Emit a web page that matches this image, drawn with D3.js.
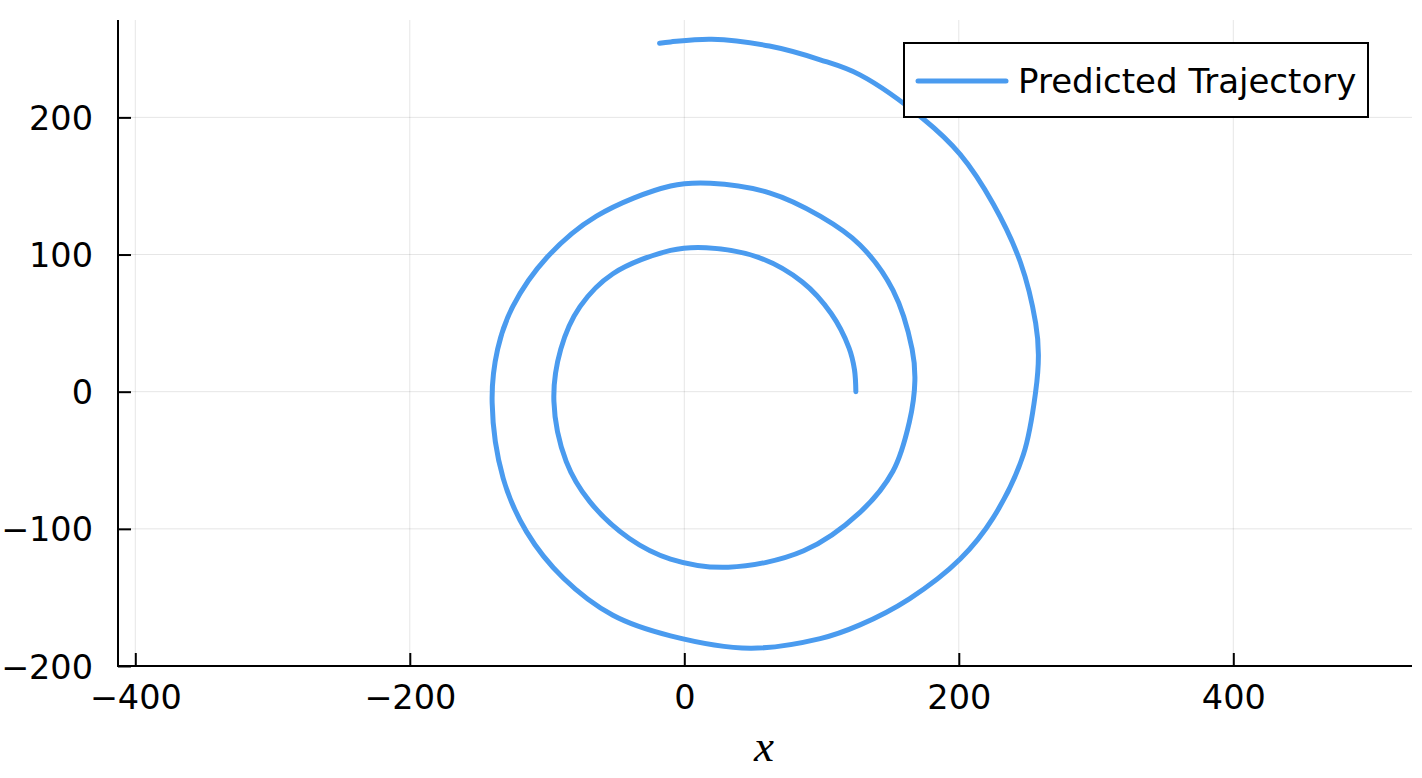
<!DOCTYPE html>
<html>
<head>
<meta charset="utf-8">
<script src="https://cdn.jsdelivr.net/npm/d3@7"></script>
<style>
  html, body { margin: 0; padding: 0; background: #fff; }
  svg { display: block; }
</style>
</head>
<body>
<svg id="chart" width="1422" height="778"></svg>
<script>
// ---- data ----
const seriesName = "Predicted Trajectory";
const trajX = [125, 124, 120, 107, 86, 54, 16, -10, -52, -76, -90, -95, -86, -69, -40, -10, 32, 87, 128, 152, 164, 168, 166, 152, 128, 99, 62, 19, -10, -64, -100, -125, -136, -140, -132, -115, -88, -52, -10, 48, 99, 128, 164, 201, 225, 247, 256, 258, 256, 245, 225, 201, 174, 128, 99, 62, 20, -10, -18];
const trajY = [0, 16, 32, 57, 80, 98, 105, 103, 86, 62, 31, -7, -51, -80, -107, -122, -128, -116, -88, -58, -22, 8, 31, 74, 107, 128, 145, 152, 150, 128, 98, 62, 31, -8, -63, -102, -136, -163, -178, -187, -180, -170, -151, -122, -92, -46, 0, 27, 50, 94, 137, 173, 199, 231, 242, 252, 257, 255, 254];
const xTicks = [-400, -200, 0, 200, 400];
const yTicks = [-200, -100, 0, 100, 200];
const xLabel = "x";

// ---- layout ----
const svg = d3.select("#chart");
const padL = 118, padR = 1412, padT = 20, padB = 666;
const xScale = d3.scaleLinear().domain([-412.6, 530.2]).range([padL, padR]);
const yScale = d3.scaleLinear().domain([-200, 271]).range([padB, padT]);
const lineColor = "#4a9bef";
const fmt = d => (d < 0 ? "\u2212" + Math.abs(d) : String(d));

// grid
svg.append("g").selectAll("line").data(xTicks).join("line")
  .attr("x1", d => xScale(d)).attr("x2", d => xScale(d))
  .attr("y1", padT).attr("y2", padB)
  .attr("stroke", "#000").attr("stroke-opacity", 0.1).attr("stroke-width", 1);
svg.append("g").selectAll("line").data(yTicks).join("line")
  .attr("x1", padL).attr("x2", padR)
  .attr("y1", d => yScale(d)).attr("y2", d => yScale(d))
  .attr("stroke", "#000").attr("stroke-opacity", 0.1).attr("stroke-width", 1);

// axes
const xAxis = d3.axisBottom(xScale).tickValues(xTicks).tickSize(-13).tickPadding(20).tickFormat(fmt);
const yAxis = d3.axisLeft(yScale).tickValues(yTicks).tickSize(-13).tickPadding(25).tickFormat(fmt);
const gx = svg.append("g").attr("transform", `translate(0,${padB})`).call(xAxis);
const gy = svg.append("g").attr("transform", `translate(${padL},0)`).call(yAxis);
[gx, gy].forEach(g => {
  g.select(".domain").remove();
  g.selectAll(".tick line").attr("stroke", "#000").attr("stroke-width", 2);
  g.selectAll(".tick text").attr("fill", "#000")
    .style("font-family", "'DejaVu Sans', sans-serif").style("font-size", "33.5px");
});
gx.selectAll(".tick text").attr("dy", "0.7em");
gy.selectAll(".tick text").attr("dy", "0.36em");

// spines
svg.append("line").attr("x1", padL).attr("x2", padL).attr("y1", padT).attr("y2", padB + 1)
  .attr("stroke", "#000").attr("stroke-width", 2);
svg.append("line").attr("x1", padL - 1).attr("x2", padR).attr("y1", padB).attr("y2", padB)
  .attr("stroke", "#000").attr("stroke-width", 2);

// x label
svg.append("text").attr("x", xScale(58)).attr("y", 761)
  .attr("text-anchor", "middle")
  .style("font-family", "'Liberation Serif', serif").style("font-style", "italic")
  .style("font-size", "45px").text(xLabel);

// trajectory
const pts = trajX.map((x, i) => [x, trajY[i]]);
const line = d3.line().x(d => xScale(d[0])).y(d => yScale(d[1])).curve(d3.curveCatmullRom.alpha(0.5));
svg.append("path").datum(pts).attr("d", line)
  .attr("fill", "none").attr("stroke", lineColor).attr("stroke-width", 5)
  .attr("stroke-linecap", "round").attr("stroke-linejoin", "round");

// legend
const lg = svg.append("g");
lg.append("rect").attr("x", 904).attr("y", 43).attr("width", 464).attr("height", 74)
  .attr("fill", "#fff").attr("stroke", "#000").attr("stroke-width", 2);
lg.append("line").attr("x1", 918).attr("x2", 1006).attr("y1", 81).attr("y2", 81)
  .attr("stroke", lineColor).attr("stroke-width", 5).attr("stroke-linecap", "round");
lg.append("text").attr("x", 1018).attr("y", 81).attr("dy", "0.36em")
  .style("font-family", "'DejaVu Sans', sans-serif").style("font-size", "34px")
  .attr("fill", "#000").text(seriesName);
</script>
</body>
</html>
